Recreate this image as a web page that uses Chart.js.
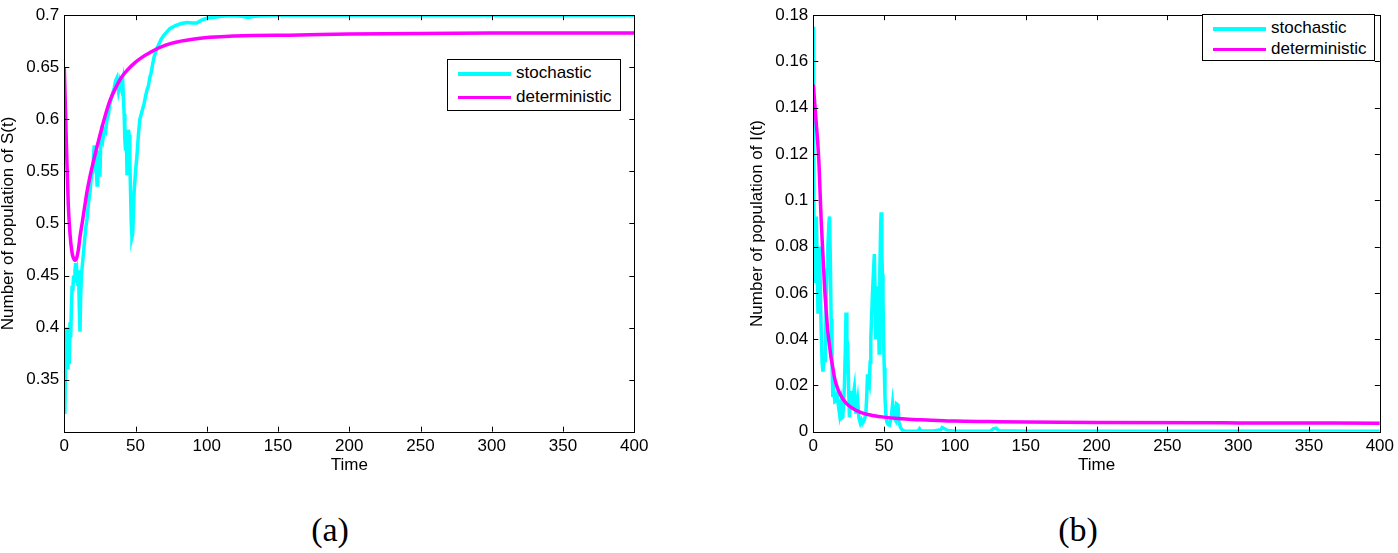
<!DOCTYPE html>
<html>
<head>
<meta charset="utf-8">
<script src="https://cdn.jsdelivr.net/npm/chart.js@4.4.1/dist/chart.umd.min.js"></script>
<style>
  body { margin: 0; background: #fff; width: 1398px; height: 553px; position: relative; overflow: hidden; }
  canvas { position: absolute; top: 0; }
  .legend { position: absolute; border: 1px solid #000; background: #fff; font-family: "Liberation Sans", Arial, sans-serif; font-size: 17px; color: #000; }
  .legend .row { position: absolute; left: 0; height: 20px; }
  .legend .sw { position: absolute; left: 10px; width: 53px; height: 3.5px; }
  .legend .lab { position: absolute; left: 68px; white-space: nowrap; line-height: 20px; }
  .cap { position: absolute; top: 510px; width: 80px; text-align: center; font-family: "Liberation Serif", "Times New Roman", serif; font-size: 34px; line-height: 40px; }
</style>
</head>
<body>
<canvas id="chartS" width="700" height="490" style="left:0px"></canvas>
<canvas id="chartI" width="649" height="490" style="left:749px"></canvas>
<div id="legS" class="legend" style="left:447px; top:59px; width:172px; height:50px"></div>
<div id="legI" class="legend" style="left:1202px; top:14px; width:171px; height:45px"></div>
<div class="cap" style="left:290px">(a)</div>
<div class="cap" style="left:1038px">(b)</div>
<script>
// series names
const seriesNames = ['stochastic', 'deterministic'];
const seriesColors = ['#00ffff', '#ff00ff'];

// ---- (a) S(t) ----
const tSStoch = [0, 0.4, 0.8, 1.2, 1.6, 2, 2.5, 3, 3.5, 4, 4.5, 5, 5.5, 6, 6.5, 7, 7.5, 8, 8.5, 9, 9.5, 10, 10.5, 11, 11.5, 12,
  13, 14, 15, 16, 17, 18, 19, 20, 20.5, 21, 21.5, 22, 22.5, 23, 23.5, 24, 24.5, 25, 25.5, 26, 27, 28, 29, 30, 31, 32, 33, 34, 35,
  36, 37, 38, 39, 40, 41, 41.5, 42, 42.5, 43, 43.5, 44, 44.5, 45, 45.5, 46, 46.5, 47, 47.5, 48, 48.5, 49, 50, 51, 52, 53, 54, 55,
  56, 57, 58, 59, 60, 61, 62, 63, 64, 65, 66, 67, 68, 70, 72, 74, 78, 82, 86, 90, 93, 96, 100, 105, 110, 115, 120, 125, 128, 130,
  133, 140, 150, 200, 250, 300, 350, 400];
const sStoch = [0.385, 0.317, 0.36, 0.40, 0.362, 0.395, 0.36, 0.40, 0.365, 0.405, 0.39, 0.42, 0.44, 0.435, 0.45, 0.445, 0.455, 0.462, 0.445, 0.45, 0.44, 0.455, 0.42, 0.396, 0.43, 0.45,
  0.465, 0.48, 0.495, 0.505, 0.52, 0.53, 0.545, 0.55, 0.565, 0.575, 0.56, 0.57, 0.55, 0.537, 0.55, 0.57, 0.56, 0.545, 0.575, 0.585, 0.58, 0.59, 0.588, 0.60, 0.605, 0.615, 0.62, 0.625, 0.63,
  0.637, 0.64, 0.628, 0.636, 0.63, 0.637, 0.62, 0.605, 0.58, 0.57, 0.59, 0.548, 0.56, 0.59, 0.585, 0.56, 0.53, 0.50, 0.487, 0.49, 0.51, 0.53, 0.55, 0.565, 0.585, 0.60, 0.605, 0.61,
  0.615, 0.622, 0.628, 0.632, 0.64, 0.645, 0.653, 0.66, 0.664, 0.668, 0.671, 0.674, 0.677, 0.681, 0.684, 0.687, 0.69, 0.692, 0.693, 0.6925, 0.6925, 0.695, 0.697, 0.698, 0.699, 0.6995, 0.6995, 0.699, 0.698, 0.698,
  0.699, 0.6995, 0.7, 0.7, 0.7, 0.7, 0.7, 0.7];
const tSDet = [0, 0.5, 1, 1.7, 2.8, 4, 5.2, 6.3, 7.5, 8.7, 10, 11, 12.5, 14.5, 16, 18, 20, 23, 26, 29, 32, 36, 40, 44, 50, 55, 60, 67, 75, 90, 120, 165, 200, 300, 400];
const sDet = [0.65, 0.625, 0.60, 0.565, 0.518, 0.49, 0.474, 0.467, 0.4646, 0.467, 0.476, 0.487, 0.50, 0.518, 0.531, 0.545, 0.557, 0.574, 0.590, 0.605, 0.618, 0.630, 0.640, 0.647, 0.655, 0.660, 0.664, 0.669, 0.673, 0.677, 0.680, 0.681, 0.682, 0.683, 0.683];

// ---- (b) I(t) ----
const tIStoch = [0, 0.3, 0.6, 1.0, 1.5, 2.1, 2.7, 3.3, 3.9, 4.5, 5.0, 5.6, 6.2, 6.8, 7.4, 8, 8.5, 9.1, 9.7, 10.3, 11, 11.5, 12, 12.6, 13.2, 13.8,
  14.5, 15.2, 16.1, 17, 17.8, 18.5, 19.5, 20.2, 20.8, 21.4, 22, 22.6, 23.1, 23.7, 24.3, 24.9, 25.5, 26.1, 26.6, 27.3, 28, 29, 29.6, 30.1,
  31.3, 32.2, 33.2, 34, 34.8, 36, 37.1, 37.7, 38.3, 38.9, 39.5, 40.1, 40.6, 41.2, 41.8, 42.4, 43.1, 43.6, 44.1, 44.7, 45.3, 45.9, 46.5,
  47, 47.6, 47.9, 48.4, 48.8, 49.2, 49.6, 50.1, 50.6, 51.2, 52, 53, 53.7, 55, 56, 57, 58, 58.8, 59.8, 60.5, 61.5, 63, 65, 70, 74, 75, 76,
  85, 90, 91, 93, 95, 100, 125, 127, 129, 131, 150, 200, 300, 400];
const iStoch = [0.175, 0.12, 0.065, 0.093, 0.07, 0.093, 0.075, 0.051, 0.06, 0.08, 0.06, 0.043, 0.03, 0.026, 0.03, 0.0345, 0.03, 0.0557, 0.07, 0.08, 0.09, 0.093, 0.075, 0.0486, 0.03, 0.015,
  0.018, 0.013, 0.0134, 0.016, 0.011, 0.0078, 0.012, 0.006, 0.0063, 0.012, 0.0206, 0.035, 0.0515, 0.04, 0.0374, 0.02, 0.0063, 0.012, 0.0176, 0.01, 0.015, 0.019, 0.012, 0.0078,
  0.0134, 0.006, 0.0037, 0.005, 0.0037, 0.005, 0.0078, 0.015, 0.0248, 0.022, 0.0206, 0.03, 0.0402, 0.05, 0.06, 0.068, 0.0768, 0.06, 0.04, 0.05, 0.0628, 0.05, 0.034,
  0.07, 0.09, 0.0948, 0.0768, 0.068, 0.0585, 0.04, 0.0275, 0.015, 0.0078, 0.004, 0.003, 0.0028, 0.006, 0.012, 0.006, 0.005, 0.012, 0.0115, 0.004, 0.002, 0.0005, 0.0002, 0.0002, 0.0003, 0.0012, 0.0003,
  0.0003, 0.0008, 0.0018, 0.0012, 0.0005, 0.0002, 0.0002, 0.0012, 0.0015, 0.0004, 0.0002, 0.0002, 0.0002, 0.0002];
const tIDet = [0, 1, 2, 3, 4, 5, 5.6, 7, 8, 9, 10.3, 11.5, 12.6, 14, 15, 17, 19.6, 23, 26.6, 30, 36, 43, 50, 60, 70, 80, 100, 124, 150, 200, 300, 400];
const iDet = [0.150, 0.142, 0.134, 0.126, 0.116, 0.100, 0.091, 0.074, 0.062, 0.053, 0.043, 0.037, 0.0317, 0.027, 0.0233, 0.019, 0.0155, 0.0125, 0.0106, 0.0093, 0.0078, 0.0069, 0.0063, 0.0057, 0.0053, 0.0051, 0.0046, 0.0044, 0.0042, 0.0040, 0.0038, 0.0037];

const xRange = [0, 400, 50];
const yRangeS = [0.3, 0.7, 0.05];
const yRangeI = [0, 0.18, 0.02];
const yTitleS = 'Number of population of S(t)';
const yTitleI = 'Number of population of I(t)';
const xTitle = 'Time';

const FONT = '"Liberation Sans", Arial, sans-serif';

function pairs(xs, ys) {
  return xs.map((x, i) => ({x: x, y: ys[i]}));
}

// MATLAB-style box with inward ticks on all four sides
const boxTicks = {
  id: 'boxTicks',
  afterDatasetsDraw(chart) {
    const ctx = chart.ctx;
    const a = chart.chartArea;
    const L = 5;
    ctx.save();
    ctx.strokeStyle = '#000';
    ctx.lineWidth = 1;
    ctx.beginPath();
    chart.scales.x.ticks.forEach(t => {
      const px = Math.round(chart.scales.x.getPixelForValue(t.value)) + 0.5;
      ctx.moveTo(px, a.bottom); ctx.lineTo(px, a.bottom - L);
      ctx.moveTo(px, a.top); ctx.lineTo(px, a.top + L);
    });
    chart.scales.y.ticks.forEach(t => {
      const py = Math.round(chart.scales.y.getPixelForValue(t.value)) + 0.5;
      ctx.moveTo(a.left, py); ctx.lineTo(a.left + L, py);
      ctx.moveTo(a.right, py); ctx.lineTo(a.right - L, py);
    });
    ctx.stroke();
    ctx.strokeRect(Math.round(a.left) + 0.5, Math.round(a.top) + 0.5, Math.round(a.right - a.left), Math.round(a.bottom - a.top));
    ctx.restore();
  }
};

function fmt(v) {
  return String(+v.toFixed(2));
}

function makeChart(id, stoch, det, yRange, yTitle, rightPad, hideFirst) {
  return new Chart(document.getElementById(id), {
    type: 'line',
    data: {
      datasets: [
        {label: seriesNames[0], data: stoch, borderColor: seriesColors[0], borderWidth: 3.5, pointRadius: 0, tension: 0, order: 2},
        {label: seriesNames[1], data: det, borderColor: seriesColors[1], borderWidth: 3.5, pointRadius: 0, cubicInterpolationMode: 'monotone', order: 1}
      ]
    },
    options: {
      responsive: false,
      animation: false,
      devicePixelRatio: 1,
      layout: {padding: {left: 0, top: 6, right: rightPad, bottom: 16}},
      plugins: {legend: {display: false}, tooltip: {enabled: false}},
      scales: {
        x: {
          type: 'linear', min: xRange[0], max: xRange[1],
          afterFit: s => { s.height = 42.3; },
          grid: {display: false, drawTicks: false},
          border: {display: false},
          ticks: {stepSize: xRange[2], padding: 4, color: '#000', font: {family: FONT, size: 17}},
          title: {display: true, text: xTitle, color: '#000', padding: 0, font: {family: FONT, size: 17, lineHeight: 1}}
        },
        y: {
          type: 'linear', min: yRange[0], max: yRange[1],
          afterFit: s => { s.width = 64.3; },
          grid: {display: false, drawTicks: false},
          border: {display: false},
          ticks: {
            stepSize: yRange[2], padding: 5, color: '#000', font: {family: FONT, size: 17},
            callback: (v, i) => (hideFirst && i === 0) ? '' : fmt(v)
          },
          title: {display: true, text: yTitle, color: '#000', padding: 0, font: {family: FONT, size: 17, lineHeight: 1}}
        }
      }
    },
    plugins: [boxTicks]
  });
}

makeChart('chartS', pairs(tSStoch, sStoch), pairs(tSDet, sDet), yRangeS, yTitleS, 700 - 634.3, true);
makeChart('chartI', pairs(tIStoch, iStoch), pairs(tIDet, iDet), yRangeI, yTitleI, 649 - 634.7, false);

function buildLegend(id, gap) {
  const el = document.getElementById(id);
  seriesNames.forEach((name, i) => {
    const row = document.createElement('div');
    row.className = 'row';
    row.style.top = (3 + i * gap) + 'px';
    const sw = document.createElement('div');
    sw.className = 'sw';
    sw.style.background = seriesColors[i];
    sw.style.top = '9px';
    const lab = document.createElement('div');
    lab.className = 'lab';
    lab.textContent = name;
    row.appendChild(sw);
    row.appendChild(lab);
    el.appendChild(row);
  });
}
buildLegend('legS', 23.5);
buildLegend('legI', 20.5);
</script>
</body>
</html>
